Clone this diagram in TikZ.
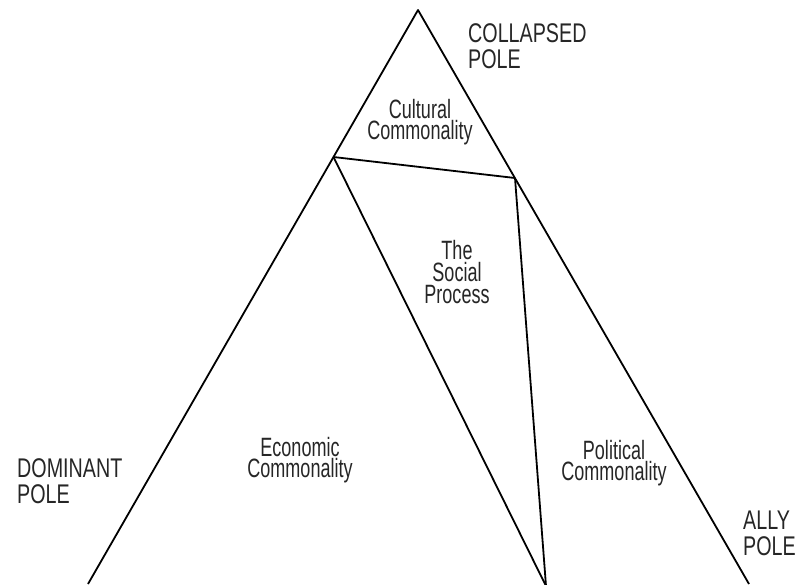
\documentclass[tikz,border=0pt]{standalone}
\usepackage{fontspec}
\newfontfamily\outerfont[FakeStretch=0.73]{Liberation Sans}
\newfontfamily\innerfont[FakeStretch=0.68]{Liberation Sans}
\begin{document}
\begin{tikzpicture}[x=1pt,y=-1pt,
  edge/.style={line width=1.8pt, line join=round},
  polelabel/.style={anchor=base west, align=left, inner sep=0pt,
    font=\outerfont\fontsize{27}{25.5}\selectfont, text=black!85},
  arealabel/.style={anchor=base, align=center, inner sep=0pt, text=black!85}]
\useasboundingbox (0,0) rectangle (800,584);
\clip (0,0) rectangle (800,584);
\coordinate (apex) at (418,10);
\coordinate (lmid) at (333.5,157);
\coordinate (rmid) at (515,178);
\coordinate (bl) at (88,584);
\coordinate (br) at (749,584);
\coordinate (bm) at (546,586);
\draw[edge] (bl) -- (apex) -- (br);
\draw[edge] (lmid) -- (rmid);
\draw[edge] (lmid) -- (bm);
\draw[edge] (rmid) -- (bm);
\node[polelabel] (collapsed) at (468,68) {COLLAPSED\\POLE};
\node[polelabel] (dominant) at (17,503) {DOMINANT\\POLE};
\node[polelabel] (ally) at (743,555) {ALLY\\POLE};
\node[arealabel, font=\innerfont\fontsize{26.5}{13}\selectfont] (cultural) at (420,139) {Cultural\\Commonality};
\node[arealabel, font=\innerfont\fontsize{26.5}{17}\selectfont] (economic) at (300,477) {Economic\\Commonality};
\node[arealabel, font=\innerfont\fontsize{26.5}{18}\selectfont] (political) at (614,480) {Political\\Commonality};
\node[arealabel, font=\innerfont\fontsize{26.5}{22}\selectfont] (social) at (457,303) {The\\Social\\Process};
\end{tikzpicture}
\end{document}
